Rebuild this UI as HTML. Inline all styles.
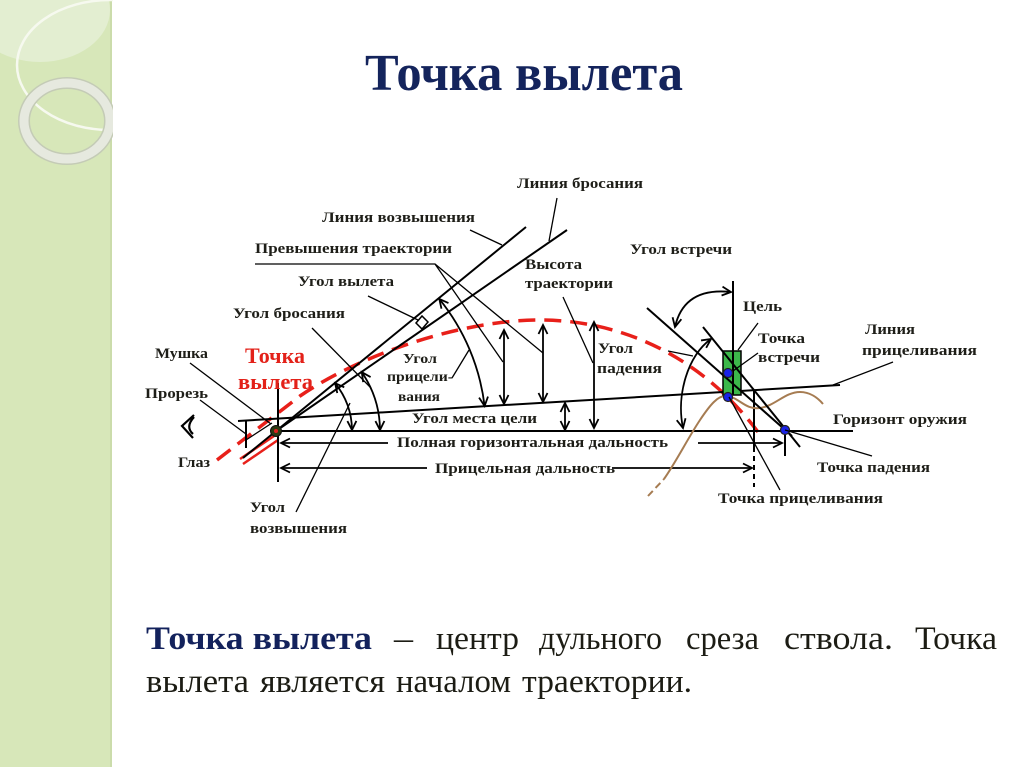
<!DOCTYPE html>
<html><head><meta charset="utf-8">
<style>
html,body{margin:0;padding:0;background:#fff;width:1024px;height:767px;overflow:hidden;}
svg{display:block;}
.l{font-family:"Liberation Serif","DejaVu Serif",serif;font-weight:bold;font-size:15px;fill:#1e1e18;}
.s{font-size:14px;}
.r{font-family:"Liberation Serif","DejaVu Serif",serif;font-weight:bold;font-size:22px;fill:#e32119;}
.t{font-family:"Liberation Serif","DejaVu Serif",serif;font-size:33px;fill:#1c1c14;}
.tb{font-weight:bold;fill:#13225c;}
.ln{stroke:#000;stroke-width:2;fill:none;}
.ld{stroke:#000;stroke-width:1.3;fill:none;}
.ar{stroke:#000;stroke-width:1.8;fill:none;}
</style></head><body>
<svg width="1024" height="767" viewBox="0 0 1024 767" xmlns="http://www.w3.org/2000/svg">
<defs>
<marker id="a" viewBox="-10 -6 12 12" refX="0" refY="0" markerWidth="12" markerHeight="12" markerUnits="userSpaceOnUse" orient="auto-start-reverse">
<path d="M-9,-4.5 L0,0 L-9,4.5" fill="none" stroke="#000" stroke-width="1.8"/>
</marker>
<clipPath id="cs"><rect x="0" y="0" width="113" height="767"/></clipPath>
</defs>

<!-- left decorative stripe -->
<rect x="0" y="0" width="111" height="767" fill="#d7e7b9"/>
<rect x="110" y="0" width="2" height="767" fill="#cbdcab"/>
<g clip-path="url(#cs)">
<ellipse cx="40" cy="10" rx="70" ry="52" fill="#e3eed1"/>
<ellipse cx="110" cy="65" rx="93" ry="65" fill="none" stroke="#f6f9ef" stroke-width="2.5"/>
<ellipse cx="67" cy="121" rx="43" ry="38" fill="none" stroke="#c4cbb6" stroke-width="12"/>
<ellipse cx="67" cy="121" rx="43" ry="38" fill="none" stroke="#e6e9df" stroke-width="9"/>
</g>

<!-- title -->
<text x="365" y="90" font-family="Liberation Serif, DejaVu Serif, serif" font-weight="bold" font-size="52" fill="#14245c" textLength="318" lengthAdjust="spacingAndGlyphs">Точка вылета</text>

<!-- trajectory -->
<path d="M217,460 L300,396 C360,355 460,320 540,320 C620,320 700,355 758,432" fill="none" stroke="#e8201a" stroke-width="3.5" stroke-dasharray="17 9"/>

<!-- barrel red lines -->
<path d="M240,459 L274,436 M243,464 L278,440" stroke="#e8201a" stroke-width="2.5" fill="none"/>

<!-- main lines -->
<path class="ln" d="M243,458 L526,227"/>
<path class="ln" d="M276,431 L567,230"/>
<path class="ln" d="M238,421 L840,385"/>
<path class="ln" d="M278,431 L853,431"/>
<path class="ln" d="M278,383 L278,482"/>
<path class="ln" d="M246,420 L246,448"/>
<path class="ld" d="M246,440 L272,423"/>

<!-- range arrows -->
<path class="ar" d="M388,443 L281,443" marker-end="url(#a)"/>
<path class="ar" d="M698,443 L782,443" marker-end="url(#a)"/>
<path class="ln" d="M785,431 L785,456"/>
<path class="ar" d="M427,468 L281,468" marker-end="url(#a)"/>
<path class="ar" d="M612,468 L752,468" marker-end="url(#a)"/>
<path class="ln" d="M754,390 L754,452"/>
<path class="ln" d="M754,456 L754,487" stroke-dasharray="5 4"/>

<!-- vertical double arrows -->
<path class="ar" d="M504,330 L504,404" marker-start="url(#a)" marker-end="url(#a)"/>
<path class="ar" d="M543,325 L543,402" marker-start="url(#a)" marker-end="url(#a)"/>
<path class="ar" d="M594,322 L594,428" marker-start="url(#a)" marker-end="url(#a)"/>
<path class="ar" d="M565,403 L565,430" marker-start="url(#a)" marker-end="url(#a)"/>

<!-- angle arcs -->
<path class="ar" d="M335.1,383.2 A76,76 0 0 1 352,430" marker-start="url(#a)" marker-end="url(#a)"/>
<path class="ar" d="M361.8,372.2 A104,104 0 0 1 380,430" marker-start="url(#a)" marker-end="url(#a)"/>
<path class="ar" d="M439.3,298.9 A210,210 0 0 1 484.6,406" marker-start="url(#a)" marker-end="url(#a)"/>
<path class="ar" d="M711,339 C688,355 676,395 683,428" marker-start="url(#a)" marker-end="url(#a)"/>
<path class="ar" d="M731,292 Q684,287 675,327" marker-start="url(#a)" marker-end="url(#a)"/>

<!-- diamond (angle of departure) -->
<path d="M416,323 L422,316 L428,322 L422,329 Z" fill="none" stroke="#000" stroke-width="1.5"/>

<!-- terrain -->
<path d="M648,496 L664,479" stroke="#a67c52" stroke-width="2" fill="none" stroke-dasharray="7 4"/>
<path d="M664,479 C676,462 688,438 700,420 C710,405 718,395 727,396 C740,398 745,410 760,408 C775,406 785,392 800,392 C810,392 818,398 823,404" stroke="#a67c52" stroke-width="2" fill="none"/>

<!-- target -->
<rect x="723" y="351" width="18" height="44" fill="#3cb84a" stroke="#000" stroke-width="1.5"/>
<path class="ln" d="M733,281 L733,395"/>

<!-- tangent lines -->
<path class="ln" d="M647,308 L792,436"/>
<path class="ln" d="M703,327 L800,447"/>

<!-- dots -->
<circle cx="728" cy="373" r="4.5" fill="#1a22e8" stroke="#222" stroke-width="1.2"/>
<circle cx="728" cy="397" r="4.5" fill="#1a22e8" stroke="#222" stroke-width="1.2"/>
<circle cx="785" cy="430" r="4.5" fill="#1a22e8" stroke="#222" stroke-width="1.2"/>
<circle cx="276" cy="431" r="5.5" fill="#2d3a14" stroke="#111" stroke-width="1"/>
<circle cx="276" cy="431" r="2" fill="#e02020"/>

<!-- eye -->
<path d="M194,415 L182,426 L193,438 M194,417 Q185,427 193,434" stroke="#000" stroke-width="2.2" fill="none"/>

<!-- leaders -->
<path class="ld" d="M557,198 L549,241"/>
<path class="ld" d="M470,230 L502,245"/>
<path class="ld" d="M255,264 L435,264 L503,362 M435,264 L543,353"/>
<path class="ld" d="M368,296 L418,320"/>
<path class="ld" d="M312,328 L371,388"/>
<path class="ld" d="M190,363 L271,424"/>
<path class="ld" d="M200,400 L246,434"/>
<path class="ld" d="M296,512 L350,403"/>
<path class="ld" d="M452,378 L469,350"/>
<path class="ld" d="M563,297 L593,363"/>
<path class="ld" d="M668,351 L693,356"/>
<path class="ld" d="M758,323 L738,350"/>
<path class="ld" d="M758,353 L733,371"/>
<path class="ld" d="M893,362 L833,385"/>
<path class="ld" d="M785,430 L872,456"/>
<path class="ld" d="M729,397 L780,490"/>

<!-- labels -->
<text class="l" x="517" y="188" textLength="126" lengthAdjust="spacingAndGlyphs">Линия бросания</text>
<text class="l" x="322" y="222" textLength="153" lengthAdjust="spacingAndGlyphs">Линия возвышения</text>
<text class="l" x="255" y="253" textLength="197" lengthAdjust="spacingAndGlyphs">Превышения траектории</text>
<text class="l" x="298" y="286" textLength="96" lengthAdjust="spacingAndGlyphs">Угол вылета</text>
<text class="l" x="233" y="318" textLength="112" lengthAdjust="spacingAndGlyphs">Угол бросания</text>
<text class="l" x="155" y="358" textLength="53" lengthAdjust="spacingAndGlyphs">Мушка</text>
<text class="l" x="145" y="398" textLength="63" lengthAdjust="spacingAndGlyphs">Прорезь</text>
<text class="l" x="178" y="467" textLength="32" lengthAdjust="spacingAndGlyphs">Глаз</text>
<text class="l" x="250" y="512" textLength="35" lengthAdjust="spacingAndGlyphs">Угол</text>
<text class="l" x="250" y="533" textLength="97" lengthAdjust="spacingAndGlyphs">возвышения</text>
<text class="l s" x="403" y="363" textLength="34" lengthAdjust="spacingAndGlyphs">Угол</text>
<text class="l s" x="387" y="381" textLength="66" lengthAdjust="spacingAndGlyphs">прицели-</text>
<text class="l s" x="398" y="401" textLength="42" lengthAdjust="spacingAndGlyphs">вания</text>
<text class="l" x="412" y="423" textLength="125" lengthAdjust="spacingAndGlyphs">Угол места цели</text>
<text class="l" x="525" y="269" textLength="57" lengthAdjust="spacingAndGlyphs">Высота</text>
<text class="l" x="525" y="288" textLength="88" lengthAdjust="spacingAndGlyphs">траектории</text>
<text class="l" x="598" y="353" textLength="35" lengthAdjust="spacingAndGlyphs">Угол</text>
<text class="l" x="597" y="373" textLength="65" lengthAdjust="spacingAndGlyphs">падения</text>
<text class="l" x="397" y="447" textLength="271" lengthAdjust="spacingAndGlyphs">Полная горизонтальная дальность</text>
<text class="l" x="435" y="473" textLength="180" lengthAdjust="spacingAndGlyphs">Прицельная дальность</text>
<text class="l" x="630" y="254" textLength="102" lengthAdjust="spacingAndGlyphs">Угол встречи</text>
<text class="l" x="743" y="311" textLength="39" lengthAdjust="spacingAndGlyphs">Цель</text>
<text class="l" x="758" y="343" textLength="47" lengthAdjust="spacingAndGlyphs">Точка</text>
<text class="l" x="758" y="362" textLength="62" lengthAdjust="spacingAndGlyphs">встречи</text>
<text class="l" x="865" y="334" textLength="50" lengthAdjust="spacingAndGlyphs">Линия</text>
<text class="l" x="862" y="355" textLength="115" lengthAdjust="spacingAndGlyphs">прицеливания</text>
<text class="l" x="833" y="424" textLength="134" lengthAdjust="spacingAndGlyphs">Горизонт оружия</text>
<text class="l" x="817" y="472" textLength="113" lengthAdjust="spacingAndGlyphs">Точка падения</text>
<text class="l" x="718" y="503" textLength="165" lengthAdjust="spacingAndGlyphs">Точка прицеливания</text>

<text class="r" x="245" y="363" textLength="60" lengthAdjust="spacingAndGlyphs">Точка</text>
<text class="r" x="238" y="389" textLength="75" lengthAdjust="spacingAndGlyphs">вылета</text>

<!-- bottom paragraph -->
<text class="t tb" x="146" y="649" textLength="226" lengthAdjust="spacingAndGlyphs">Точка вылета</text>
<text class="t" x="394" y="649" textLength="19" lengthAdjust="spacingAndGlyphs">–</text>
<text class="t" x="436" y="649" textLength="83" lengthAdjust="spacingAndGlyphs">центр</text>
<text class="t" x="539" y="649" textLength="123" lengthAdjust="spacingAndGlyphs">дульного</text>
<text class="t" x="686" y="649" textLength="73" lengthAdjust="spacingAndGlyphs">среза</text>
<text class="t" x="784" y="649" textLength="109" lengthAdjust="spacingAndGlyphs">ствола.</text>
<text class="t" x="915" y="649" textLength="82" lengthAdjust="spacingAndGlyphs">Точка</text>
<text class="t" x="146" y="692" textLength="103" lengthAdjust="spacingAndGlyphs">вылета</text>
<text class="t" x="260" y="692" textLength="125" lengthAdjust="spacingAndGlyphs">является</text>
<text class="t" x="396" y="692" textLength="115" lengthAdjust="spacingAndGlyphs">началом</text>
<text class="t" x="522" y="692" textLength="170" lengthAdjust="spacingAndGlyphs">траектории.</text>
</svg>
</body></html>
